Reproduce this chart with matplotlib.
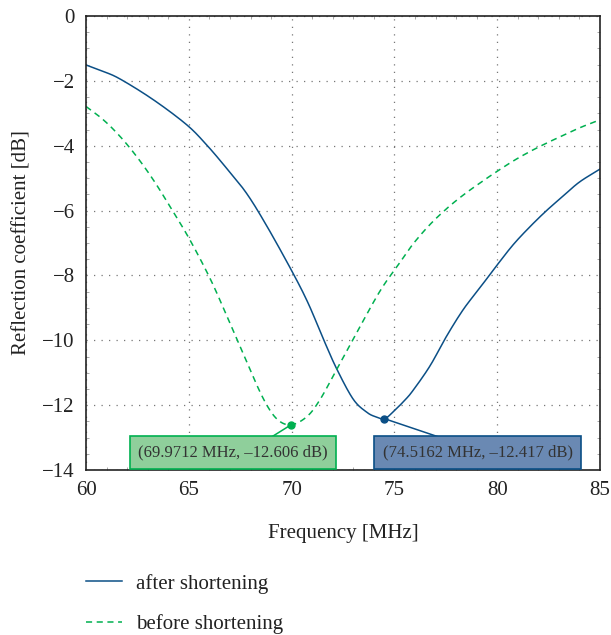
import numpy as np
import matplotlib.pyplot as plt
from matplotlib.ticker import MultipleLocator
from matplotlib.lines import Line2D

plt.rcParams['font.family'] = ['Liberation Serif', 'DejaVu Serif']

# after shortening (MHz, dB)
f_after = [60.0, 60.8, 61.65, 63.27, 64.89, 65.86, 66.83, 67.8, 68.77, 70.0, 70.8, 71.55, 72.2,
           73.0, 73.66, 74.1, 74.52, 74.95, 75.5, 75.9, 76.73, 77.54, 78.35, 79.16, 79.97, 80.78,
           81.59, 82.4, 83.21, 84.0, 85.0]
r_after = [-1.51, -1.7, -1.94, -2.58, -3.35, -3.97, -4.69, -5.46, -6.45, -7.85, -8.85, -9.97, -10.89,
           -11.82, -12.22, -12.36, -12.417, -12.2, -11.85, -11.55, -10.79, -9.87, -9.05, -8.38, -7.7,
           -7.05, -6.5, -6.0, -5.55, -5.12, -4.72]

# before shortening
f_before = [60.0, 60.84, 61.65, 62.46, 63.27, 64.08, 64.89, 65.6, 66.21, 67.02, 67.83, 68.64,
            69.29, 69.97, 70.75, 71.39, 72.2, 73.17, 74.3, 75.2, 75.92, 76.73, 77.54, 78.35,
            79.16, 79.97, 80.78, 81.59, 82.4, 83.21, 84.0, 85.0]
r_before = [-2.79, -3.2, -3.71, -4.33, -5.05, -5.87, -6.72, -7.55, -8.33, -9.5, -10.69, -11.82,
            -12.43, -12.606, -12.35, -11.82, -10.89, -9.76, -8.48, -7.66, -7.02, -6.43, -5.94, -5.52,
            -5.15, -4.8, -4.47, -4.18, -3.92, -3.68, -3.45, -3.2]

mark_after = (74.5162, -12.417)
mark_before = (69.9712, -12.606)

blue = '#0b4f86'
green = '#00b050'


def smooth(x, y):
    # catmull-rom through the read points
    P = np.column_stack([np.asarray(x, float), np.asarray(y, float)])
    P = np.vstack([2 * P[0] - P[1], P, 2 * P[-1] - P[-2]])
    xs, ys = [], []
    t = np.linspace(0, 1, 20, endpoint=False)[:, None]
    for i in range(1, len(P) - 2):
        p0, p1, p2, p3 = P[i - 1], P[i], P[i + 1], P[i + 2]
        c = 0.5 * ((2 * p1) + (-p0 + p2) * t + (2 * p0 - 5 * p1 + 4 * p2 - p3) * t ** 2
                   + (-p0 + 3 * p1 - 3 * p2 + p3) * t ** 3)
        xs.append(c[:, 0])
        ys.append(c[:, 1])
    xs.append([P[-2, 0]])
    ys.append([P[-2, 1]])
    return np.concatenate(xs), np.concatenate(ys)


fig = plt.figure(figsize=(6.11, 6.35), dpi=100)
ax = fig.add_axes([0.1408, 0.2598, 0.8412, 0.715])

xa, ya = smooth(f_after, r_after)
xb, yb = smooth(f_before, r_before)
ax.plot(xa, ya, color=blue, lw=1.1)
ax.plot(xb, yb, color=green, lw=1.1, ls=(0, (4, 3)))

ax.set_xlim(60, 85)
ax.set_ylim(-14, 0)
ax.xaxis.set_major_locator(MultipleLocator(5))
ax.xaxis.set_minor_locator(MultipleLocator(1))
ax.yaxis.set_minor_locator(MultipleLocator(0.5))
ax.set_yticks(range(-14, 1, 2))
ax.set_yticklabels(['\u2212%d' % abs(v) if v != 0 else '0' for v in range(-14, 1, 2)])
ax.tick_params(which='major', length=0, labelsize=15, colors='#222222', pad=8)
ax.tick_params(which='minor', direction='in', length=2, width=0.6, color='#999999',
               top=True, right=True)
ax.grid(True, which='major', color='#777777', ls=(0, (1, 5)), lw=0.9)
for s in ax.spines.values():
    s.set_linewidth(1.2)
    s.set_color('#222222')

ax.set_xlabel('Frequency [MHz]', fontsize=15, color='#222222', labelpad=17)
ax.set_ylabel('Reflection coefficient [dB]', fontsize=15, color='#222222', labelpad=8)

# data tips
ax.plot(*mark_before, 'o', color=green, ms=5, zorder=5)
ax.plot(*mark_after, 'o', color=blue, ms=5, zorder=5)
ax.plot([mark_before[0], 69.0], [mark_before[1], -12.99], color=green, lw=1.1)
ax.plot([mark_after[0], 77.2], [mark_after[1], -12.99], color=blue, lw=1.1)
ax.text(67.15, -13.45, '(%.4f MHz, \u2013%.3f dB)' % (mark_before[0], -mark_before[1]),
        ha='center', va='center', fontsize=12, color='#333333', zorder=6,
        bbox=dict(boxstyle='square,pad=0.5', fc='#8fcf9b', ec=green, lw=1.2))
ax.text(79.05, -13.45, '(%.4f MHz, \u2013%.3f dB)' % (mark_after[0], -mark_after[1]),
        ha='center', va='center', fontsize=12, color='#333333', zorder=6,
        bbox=dict(boxstyle='square,pad=0.5', fc='#6a89b3', ec=blue, lw=1.2))

handles = [Line2D([], [], color=blue, lw=1.1), Line2D([], [], color=green, lw=1.1, ls=(0, (4, 3)))]
fig.legend(handles, ['after shortening', 'before shortening'], loc='upper left',
           bbox_to_anchor=(0.11, 0.126), frameon=False, fontsize=15, handlelength=1.75,
           handletextpad=0.65, labelspacing=1.0, labelcolor='#222222')

fig.savefig('out.png', dpi=100)
